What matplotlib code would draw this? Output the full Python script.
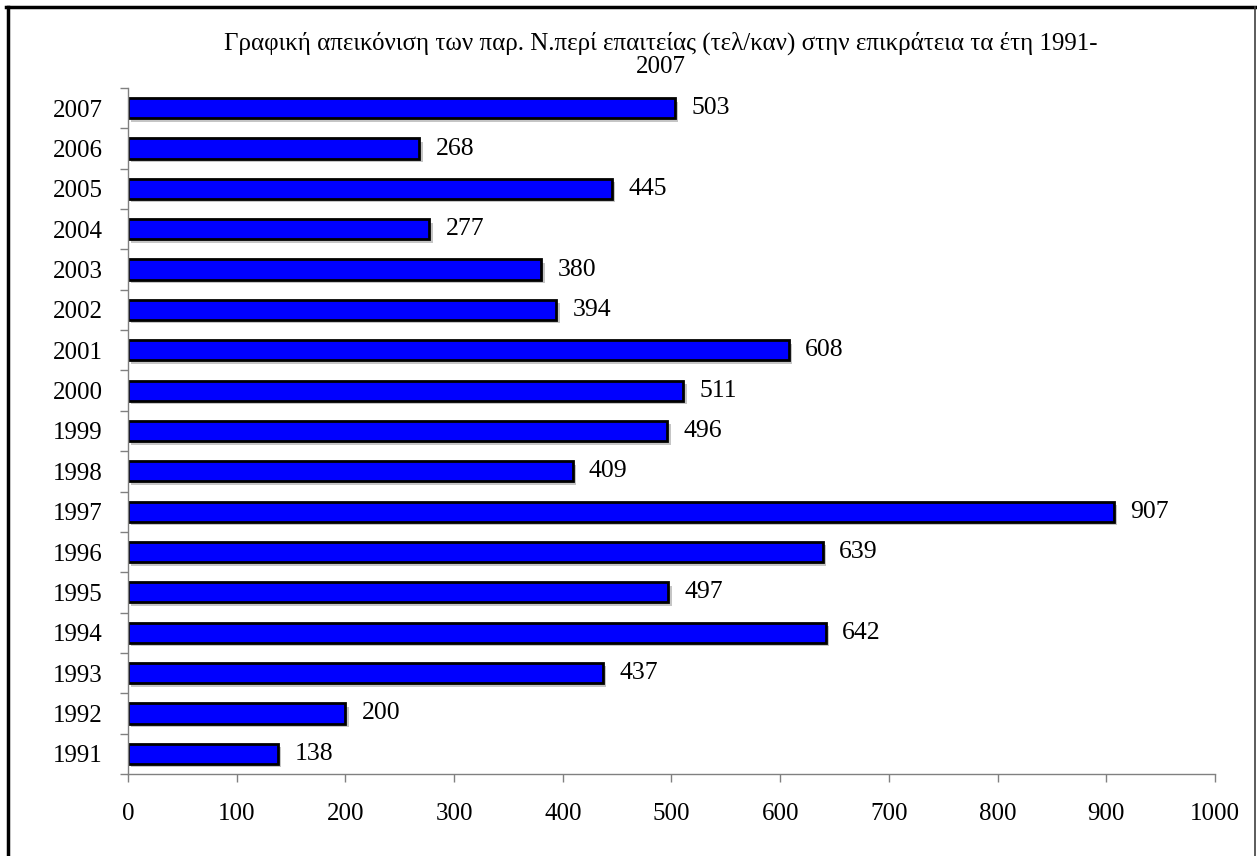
import numpy as np
import matplotlib.pyplot as plt
import matplotlib.patheffects as pe
from matplotlib.lines import Line2D

years = ['1991', '1992', '1993', '1994', '1995', '1996', '1997', '1998', '1999',
         '2000', '2001', '2002', '2003', '2004', '2005', '2006', '2007']
values = [138, 200, 437, 642, 497, 639, 907, 409, 496,
          511, 608, 394, 380, 277, 445, 268, 503]
xticks = [0, 100, 200, 300, 400, 500, 600, 700, 800, 900, 1000]

plt.rcParams['font.family'] = ['Liberation Serif', 'DejaVu Serif']

fig = plt.figure(figsize=(12.57, 8.56), dpi=100)
ax = fig.add_axes([0.1018, 0.0958, 0.8648, 0.8014])

y = np.arange(len(years))
bars = ax.barh(y, values, height=0.5, color='#0000ff', edgecolor='black', linewidth=2)
for b in bars:
    b.set_path_effects([pe.SimplePatchShadow(offset=(2.5, -2.5), shadow_rgbFace='gray', alpha=0.45),
                        pe.Normal()])

for yi, v in zip(y, values):
    ax.text(v + 15, yi, str(v), va='center', ha='left', fontsize=18.5)

ax.set_xlim(0, 1000)
ax.set_ylim(-0.5, len(years) - 0.5)
ax.set_xticks(xticks)
ax.set_xticklabels([str(t) for t in xticks], fontsize=18)
ax.set_yticks(y)
ax.set_yticklabels(years, fontsize=18)
ax.set_yticks(np.arange(-0.5, len(years)), minor=True)
ax.tick_params(axis='y', which='major', length=0, pad=18)
ax.tick_params(axis='y', which='minor', length=6, color='gray', width=1)
ax.tick_params(axis='x', length=6, color='gray', width=1, pad=15)

for s in ['top', 'right']:
    ax.spines[s].set_visible(False)
for s in ['left', 'bottom']:
    ax.spines[s].set_color('gray')
    ax.spines[s].set_linewidth(1)

fig.text(0.526, 0.963, 'Γραφική απεικόνιση των παρ. Ν.περί επαιτείας (τελ/καν) στην επικράτεια τα έτη 1991-\n2007',
         ha='center', va='top', fontsize=18, linespacing=1.05)

# outer frame (bottom edge falls outside the picture)
fig.add_artist(Line2D([0.0060, 0.0060], [0.0, 0.9918], transform=fig.transFigure, color='black', lw=2.5))
fig.add_artist(Line2D([0.0050, 0.9985], [0.9918, 0.9918], transform=fig.transFigure, color='black', lw=2.5))
fig.add_artist(Line2D([0.9985, 0.9985], [0.0, 0.9918], transform=fig.transFigure, color='#404040', lw=1.2))

fig.savefig('out.png', dpi=100)
